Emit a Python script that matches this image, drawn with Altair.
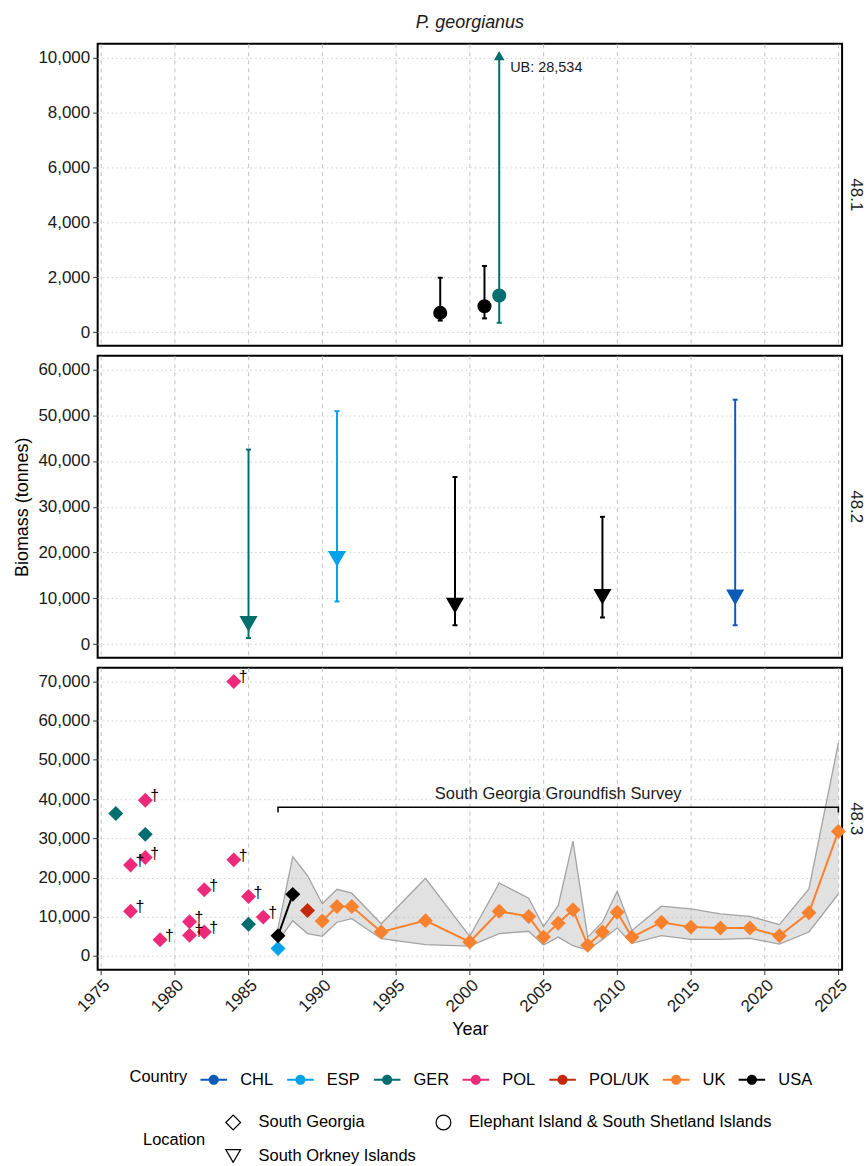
import altair as alt
import pandas as pd

# ---------------- categories ----------------
species = "P. georgianus"
countries = ["CHL", "ESP", "GER", "POL", "POL/UK", "UK", "USA"]
country_colors = ["#0C5BB8", "#00A3EA", "#006E6E", "#EC2A79", "#C4290B", "#F8812E", "#000000"]
# legend is filled column by column: this order gives rows
# [South Georgia | Elephant Island ...] and [South Orkney Islands]
locations = ["South Georgia", "South Orkney Islands", "Elephant Island & South Shetland Islands"]
location_shapes = ["diamond", "triangle-down", "circle"]
areas = ["48.1", "48.2", "48.3"]

year_ticks = [1975, 1980, 1985, 1990, 1995, 2000, 2005, 2010, 2015, 2020, 2025]
x_domain = [1974.77, 2025.25]
y_ticks_1 = [0, 2000, 4000, 6000, 8000, 10000]
y_ticks_2 = [0, 10000, 20000, 30000, 40000, 50000, 60000]
y_ticks_3 = [0, 10000, 20000, 30000, 40000, 50000, 60000, 70000]
y_domain_1 = [-500, 10500]
y_domain_2 = [-3000, 63000]
y_domain_3 = [-3500, 73500]
y_display_max_1 = 10000

# ---------------- 48.1 : Elephant Island & South Shetland Islands ----------------
s1_year = [1998, 2001, 2002]
s1_country = ["USA", "USA", "GER"]
s1_est = [700, 940, 1330]
s1_lb = [420, 500, 340]
s1_ub = [1980, 2410, 28534]

# ---------------- 48.2 : South Orkney Islands ----------------
s2_year = [1985, 1991, 1999, 2009, 2018]
s2_country = ["GER", "ESP", "USA", "USA", "CHL"]
s2_est = [4400, 18600, 8400, 10300, 10200]
s2_lb = [1300, 9300, 4100, 5800, 4100]
s2_ub = [42500, 50900, 36500, 27800, 53400]

# ---------------- 48.3 : South Georgia ----------------
s3_year = [1976, 1978, 1985,
           1977, 1977, 1978, 1978, 1979, 1981, 1981, 1982, 1982, 1984, 1984, 1985, 1986,
           1987, 1987, 1988, 1989,
           1990, 1991, 1992, 1994, 1997, 2000, 2002, 2004, 2005, 2006, 2007, 2008, 2009,
           2010, 2011, 2013, 2015, 2017, 2019, 2021, 2023, 2025]
s3_country = (["GER"] * 3 + ["POL"] * 13 + ["ESP", "USA", "USA", "POL/UK"] + ["UK"] * 22)
s3_est = [36300, 31000, 8100,
          23200, 11400, 39700, 25100, 4150, 8700, 5250, 16900, 6100, 70000, 24500, 15150, 9900,
          1900, 5150, 15700, 11600,
          8900, 12600, 12600, 6100, 9000, 3550, 11400, 10050, 4800, 8350, 11800, 2700, 6100,
          11150, 4800, 8600, 7350, 7100, 7100, 5150, 11000, 31750]
s3_note = [""] * 3 + ["†"] * 13 + [""] * 26
connected_countries = ["USA", "UK"]

band_year = [1987, 1988, 1989, 1990, 1991, 1992, 1994, 1997, 2000, 2002, 2004, 2005, 2006,
             2007, 2008, 2009, 2010, 2011, 2013, 2015, 2017, 2019, 2021, 2023, 2025]
band_upper = [7000, 25300, 20500, 13300, 17000, 16000, 8200, 19800, 5000, 18600, 14700, 7500, 12800,
              29300, 4800, 8600, 16500, 6500, 12700, 12000, 10700, 10100, 8000, 17100, 54300]
band_lower = [3800, 9000, 5700, 5000, 8600, 9500, 4400, 2900, 2500, 5700, 6300, 2800, 4800,
              2600, 1500, 4200, 7100, 3200, 5200, 4200, 4200, 4500, 3000, 6100, 15800]

survey_name = "South Georgia Groundfish Survey"
bracket_year = [1987, 1987, 2025, 2025]
bracket_value = [36600, 37900, 37900, 36600]
survey_label_year = 2006
survey_label_value = 41300

# ---------------- layout ----------------
W, H = 747, 303
FONT = "Liberation Sans"

fill_scale = alt.Scale(domain=countries, range=country_colors)
# same colours, listed in reverse so the (hidden) stroke legend is never merged with the fill one
stroke_scale = alt.Scale(domain=countries[::-1], range=country_colors[::-1])
shape_scale = alt.Scale(domain=locations, range=location_shapes)
color_of = dict(zip(countries, country_colors))

LEG_PATH = ("M-1,-0.08H1V0.08H-1Z "
            "M0.38,0A0.38,0.38,0,1,1,-0.38,0A0.38,0.38,0,1,1,0.38,0Z")

country_legend = alt.Legend(
    title="Country", orient="none", legendX=32, legendY=1026, direction="horizontal",
    titleOrient="left", titleAnchor="middle", titleBaseline="middle",
    symbolType=LEG_PATH, symbolSize=713, symbolStrokeWidth=0, symbolOpacity=1,
    labelFontSize=16.5, titleFontSize=16.5, titleFontWeight="normal",
    labelOffset=13, columnPadding=13, titlePadding=13, padding=0, labelLimit=0,
    labelColor="black", titleColor="black")

location_legend = alt.Legend(
    title="Location", orient="none", legendX=45.5, legendY=1073.5, columns=2,
    titleOrient="left", titleAnchor="middle", titleBaseline="middle",
    symbolFillColor="white", symbolStrokeColor="black", symbolStrokeWidth=1.2,
    symbolSize=220, symbolOpacity=1,
    labelFontSize=16.5, titleFontSize=16.5, titleFontWeight="normal",
    labelOffset=17, columnPadding=17, rowPadding=14, titlePadding=19, padding=0,
    labelLimit=0, labelColor="black", titleColor="black")


def x_enc(bottom):
    if bottom:
        ax = alt.Axis(values=year_ticks, format="d", title="Year", labelAngle=315,
                      labelPadding=2, tickSize=5, titlePadding=6, grid=True)
    else:
        ax = alt.Axis(values=year_ticks, labels=False, ticks=False, title=None, grid=True)
    return alt.X("year:Q", scale=alt.Scale(domain=x_domain, nice=False, zero=False), axis=ax)


def y_enc(field, domain, ticks, title=None):
    if title:
        ax = alt.Axis(values=ticks, format=",d", title=title, titlePadding=6)
    else:
        ax = alt.Axis(values=ticks, format=",d", title=None)
    return alt.Y(f"{field}:Q", scale=alt.Scale(domain=domain, nice=False, zero=False), axis=ax)


def strip(label):
    return alt.Chart(pd.DataFrame({"area": [label]})).mark_text(
        angle=90, fontSize=17, align="center", baseline="middle", color="#1a1a1a"
    ).encode(x=alt.value(W + 14), y=alt.value(H / 2), text="area:N")


def caps_frame(df, clip_max=None):
    rows = []
    for _, r in df.iterrows():
        rows.append({"year": r["year"], "country": r["country"], "value": r["lb"]})
        if clip_max is None or r["ub"] <= clip_max:
            rows.append({"year": r["year"], "country": r["country"], "value": r["ub"]})
    return pd.DataFrame(rows)


# ---------------- panel 48.1 ----------------
df1 = pd.DataFrame({"year": s1_year, "country": s1_country, "est": s1_est,
                    "lb": s1_lb, "ub": s1_ub})
df1["location"] = "Elephant Island & South Shetland Islands"
df1["ub_show"] = df1["ub"].clip(upper=y_display_max_1)
clipped1 = df1[df1["ub"] > y_display_max_1].copy()
clipped1["label"] = clipped1["ub"].map(lambda v: f"UB: {v:,}")
caps1 = caps_frame(df1, y_display_max_1)

anchor = alt.Chart(pd.DataFrame({"a": [0]})).mark_rule(color="white", strokeWidth=0.5).encode(
    x=alt.value(-96), x2=alt.value(-95), y=alt.value(-40), y2=alt.value(-40))
title_txt = alt.Chart(pd.DataFrame({"t": [species]})).mark_text(
    fontSize=18, fontStyle="italic", align="center", baseline="middle", color="#1a1a1a"
).encode(x=alt.value(W / 2), y=alt.value(-21), text="t:N")

p1 = alt.layer(
    anchor,
    title_txt,
    alt.Chart(df1).mark_rule(strokeWidth=2).encode(
        x=x_enc(False), y=y_enc("lb", y_domain_1, y_ticks_1), y2="ub_show:Q",
        stroke=alt.Stroke("country:N", scale=stroke_scale, legend=None)),
    alt.Chart(caps1).mark_rule(strokeWidth=2, xOffset=-2.5, x2Offset=2.5).encode(
        x=x_enc(False), x2="year:Q", y=y_enc("value", y_domain_1, y_ticks_1),
        stroke=alt.Stroke("country:N", scale=stroke_scale, legend=None)),
    alt.Chart(clipped1).mark_point(shape="triangle-up", filled=True, size=110, opacity=1,
                                   yOffset=-2).encode(
        x=x_enc(False), y=y_enc("ub_show", y_domain_1, y_ticks_1),
        fill=alt.value(color_of[clipped1["country"].iloc[0]])),
    alt.Chart(df1).mark_point(filled=True, opacity=1, size=200).encode(
        x=x_enc(False), y=y_enc("est", y_domain_1, y_ticks_1),
        fill=alt.Fill("country:N", scale=fill_scale, legend=country_legend),
        shape=alt.Shape("location:N", scale=shape_scale, legend=location_legend)),
    alt.Chart(clipped1).mark_text(align="left", baseline="middle", dx=11, dy=10,
                                  fontSize=14.5, color="#1a1a1a").encode(
        x=x_enc(False), y=y_enc("ub_show", y_domain_1, y_ticks_1), text="label:N"),
    strip(areas[0]),
).properties(width=W, height=H)

# ---------------- panel 48.2 ----------------
df2 = pd.DataFrame({"year": s2_year, "country": s2_country, "est": s2_est,
                    "lb": s2_lb, "ub": s2_ub})
df2["location"] = "South Orkney Islands"
caps2 = caps_frame(df2)
T2 = "Biomass (tonnes)"

p2 = alt.layer(
    alt.Chart(df2).mark_rule(strokeWidth=2).encode(
        x=x_enc(False), y=y_enc("lb", y_domain_2, y_ticks_2, T2), y2="ub:Q",
        stroke=alt.Stroke("country:N", scale=stroke_scale, legend=None)),
    alt.Chart(caps2).mark_rule(strokeWidth=2, xOffset=-2.5, x2Offset=2.5).encode(
        x=x_enc(False), x2="year:Q", y=y_enc("value", y_domain_2, y_ticks_2, T2),
        stroke=alt.Stroke("country:N", scale=stroke_scale, legend=None)),
    alt.Chart(df2).mark_point(filled=True, opacity=1, size=330).encode(
        x=x_enc(False), y=y_enc("est", y_domain_2, y_ticks_2, T2),
        fill=alt.Fill("country:N", scale=fill_scale, legend=country_legend),
        shape=alt.Shape("location:N", scale=shape_scale, legend=location_legend)),
    strip(areas[1]),
).properties(width=W, height=H)

# ---------------- panel 48.3 ----------------
df3 = pd.DataFrame({"year": s3_year, "country": s3_country, "est": s3_est, "note": s3_note})
df3["location"] = "South Georgia"
line3 = df3[df3["country"].isin(connected_countries)]
notes3 = df3[df3["note"] != ""]
band = pd.DataFrame({"year": band_year, "upper": band_upper, "lower": band_lower})
bracket = pd.DataFrame({"year": bracket_year, "value": bracket_value,
                        "idx": list(range(len(bracket_year)))})
survey_lab = pd.DataFrame({"year": [survey_label_year], "value": [survey_label_value],
                           "label": [survey_name]})

p3 = alt.layer(
    alt.Chart(band).mark_area(color="#bdbdbd", opacity=0.45).encode(
        x=x_enc(True), y=y_enc("lower", y_domain_3, y_ticks_3), y2="upper:Q"),
    alt.Chart(band).mark_line(color="#a3a3a3", strokeWidth=1.3).encode(
        x=x_enc(True), y=y_enc("upper", y_domain_3, y_ticks_3)),
    alt.Chart(band).mark_line(color="#a3a3a3", strokeWidth=1.3).encode(
        x=x_enc(True), y=y_enc("lower", y_domain_3, y_ticks_3)),
    alt.Chart(bracket).mark_line(color="black", strokeWidth=1.5).encode(
        x=x_enc(True), y=y_enc("value", y_domain_3, y_ticks_3), order="idx:Q"),
    alt.Chart(survey_lab).mark_text(fontSize=16.5, align="center", baseline="middle",
                                    color="#1a1a1a").encode(
        x=x_enc(True), y=y_enc("value", y_domain_3, y_ticks_3), text="label:N"),
    alt.Chart(line3).mark_line(strokeWidth=2).encode(
        x=x_enc(True), y=y_enc("est", y_domain_3, y_ticks_3),
        stroke=alt.Stroke("country:N", scale=stroke_scale, legend=None)),
    alt.Chart(df3).mark_point(filled=True, opacity=1, size=225).encode(
        x=x_enc(True), y=y_enc("est", y_domain_3, y_ticks_3),
        fill=alt.Fill("country:N", scale=fill_scale, legend=country_legend),
        shape=alt.Shape("location:N", scale=shape_scale, legend=location_legend)),
    alt.Chart(notes3).mark_text(align="left", baseline="middle", dx=5, dy=-4,
                                fontSize=16, color="black").encode(
        x=x_enc(True), y=y_enc("est", y_domain_3, y_ticks_3), text="note:N"),
    strip(areas[2]),
).properties(width=W, height=H)

chart = alt.vconcat(p1, p2, p3, spacing=10, bounds="flush").resolve_scale(
    fill="shared", stroke="shared", shape="shared"
).properties(padding=0).configure(font=FONT).configure_view(
    stroke="black", strokeWidth=2
).configure_axis(
    labelFontSize=17, labelColor="#1a1a1a", tickColor="#333333", tickSize=5,
    labelPadding=3, domain=False, titleFontSize=18, titleFontWeight="normal",
    titleColor="black", gridWidth=1
).configure_axisX(
    gridDash=[4, 4], gridColor="#c2c2c2"
).configure_axisY(
    gridDash=[1.5, 3], gridColor="#cfcfcf"
)

chart.save("out.html", embed_options={"renderer": "svg", "actions": False})
